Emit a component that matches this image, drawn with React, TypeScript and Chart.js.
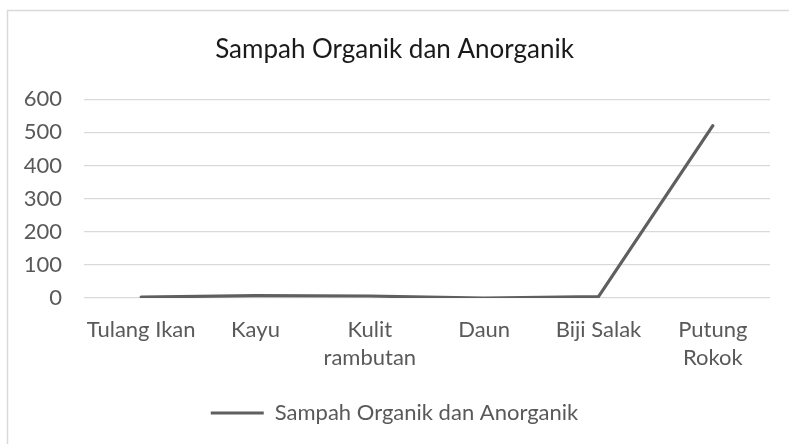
import React, { useEffect, useRef } from "react";
import { Chart, registerables } from "chart.js";

Chart.register(...registerables);

const categories: (string | string[])[] = [
  "Tulang Ikan",
  "Kayu",
  ["Kulit", "rambutan"],
  "Daun",
  "Biji Salak",
  ["Putung", "Rokok"],
];
const seriesName = "Sampah Organik dan Anorganik";
const seriesValues = [3, 7, 6, 0, 4, 520];
const yTicks = [0, 100, 200, 300, 400, 500, 600];

const FONT = "Lato, 'Open Sans', sans-serif";

const borderPlugin = {
  id: "outerBorder",
  beforeDraw(chart: any) {
    const ctx = chart.ctx;
    ctx.save();
    ctx.fillStyle = "#ffffff";
    ctx.fillRect(0, 0, chart.width, chart.height);
    ctx.strokeStyle = "#d9d9d9";
    ctx.lineWidth = 1.5;
    ctx.strokeRect(7.5, 10.5, 900, 600);
    ctx.restore();
  },
};

export default function App() {
  const ref = useRef<HTMLCanvasElement | null>(null);

  useEffect(() => {
    if (!ref.current) return;
    const chart = new Chart(ref.current, {
      type: "line",
      data: {
        labels: categories,
        datasets: [
          {
            label: seriesName,
            data: seriesValues,
            borderColor: "#5f5f5f",
            backgroundColor: "#5f5f5f",
            borderWidth: 3.2,
            pointRadius: 0,
            tension: 0,
            borderCapStyle: "round",
            borderJoinStyle: "round",
          },
        ],
      },
      plugins: [borderPlugin],
      options: {
        animation: false,
        responsive: false,
        maintainAspectRatio: false,
        layout: { padding: { left: 0, right: 0, top: 34, bottom: 10 } },
        plugins: {
          title: {
            display: true,
            text: seriesName,
            color: "#1a1a1a",
            font: { family: FONT, size: 26, weight: "normal", lineHeight: 1.2 },
            padding: { top: 0, bottom: 34 },
          },
          legend: {
            display: true,
            position: "bottom",
            labels: {
              color: "#595959",
              font: { family: FONT, size: 22 },
              boxWidth: 53,
              boxHeight: 3,
              padding: 10,
              generateLabels: (c: any) => {
                const items = Chart.defaults.plugins.legend.labels.generateLabels(c);
                items.forEach((it: any) => {
                  it.lineWidth = 0;
                  it.fillStyle = "#5f5f5f";
                });
                return items;
              },
            },
          },
          tooltip: { enabled: false },
        },
        scales: {
          x: {
            offset: true,
            grid: { display: false, drawTicks: false },
            border: { display: false },
            ticks: {
              color: "#595959",
              font: { family: FONT, size: 22, lineHeight: 1.27 },
              maxRotation: 0,
              autoSkip: false,
              padding: 18,
            },
            afterFit: (s: any) => {
              s.height = 94;
            },
          },
          y: {
            min: 0,
            max: 600,
            afterBuildTicks: (s: any) => {
              s.ticks = yTicks.map((v) => ({ value: v }));
            },
            grid: { color: "#d9d9d9", lineWidth: 1.3, drawTicks: false },
            border: { display: false },
            ticks: {
              color: "#595959",
              font: { family: FONT, size: 22 },
              padding: 22,
            },
            afterFit: (s: any) => {
              s.width = 84;
            },
          },
          yRightSpacer: {
            position: "right",
            min: 0,
            max: 600,
            grid: { display: false, drawTicks: false },
            border: { display: false },
            ticks: { display: false },
            afterFit: (s: any) => {
              s.width = 19;
            },
          },
        },
      },
    });
    return () => chart.destroy();
  }, []);

  return (
    <div style={{ position: "fixed", left: 0, top: 0, width: 789, height: 444, background: "#fff" }}>
      <canvas ref={ref} width={789} height={444} style={{ width: 789, height: 444 }} />
    </div>
  );
}
